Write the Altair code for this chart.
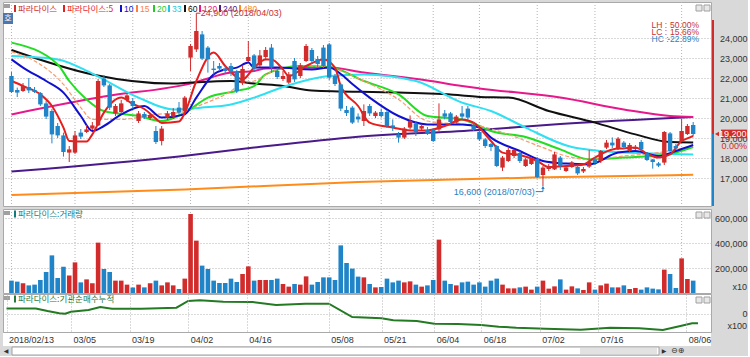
import altair as alt
import pandas as pd

# ---------------- data ----------------
tick_idx = [0, 11, 21, 31, 41, 55, 64, 73, 81, 91, 101, 116]
tick_labels = ["2018/02/13", "03/05", "03/19", "04/02", "04/16", "05/08",
               "05/21", "06/04", "06/18", "07/02", "07/16", "08/06"]

opens = [22100, 21400, 21350, 21550, 21400, 21250, 20730, 20350, 19600, 19130,
         18270, 18270, 19270, 19300, 19470, 19630, 21970, 21630, 20230, 20300,
         20900, 20850, 19850, 20200, 20000, 19350, 18850, 20020, 20070, 20520,
         20350, 23020, 23430, 24180, 23520, 22470, 22600, 22470, 22600, 22300,
         21750, 22850, 23130, 22630, 23050, 23520, 22350, 21950, 21770, 22850,
         22100, 22850, 23400, 22950, 23520, 23680, 22100, 21680, 20400, 20520,
         20070, 19850, 20600, 20100, 20300, 20300, 19630, 19180, 19020, 19520,
         19730, 19470, 19400, 19430, 19430, 20230, 20230, 19770, 20230, 20470,
         19630, 19300, 18930, 18700, 18600, 17520, 17850, 18100, 18250, 17600,
         17700, 17950, 17150, 17450, 17430, 18020, 17350, 17550, 17550, 17330,
         17570, 17930, 17850, 18520, 18770, 18470, 18770, 18350, 18450, 18800,
         18230, 17930, 17730, 17770, 19230, 18600, 18850, 19200, 19650]
highs = [22300, 21520, 21750, 22000, 21550, 21300, 20850, 20450, 19750, 19270,
         18600, 19350, 19450, 19650, 19800, 21950, 22150, 21700, 20700, 20900,
         21250, 21000, 20350, 20300, 20250, 19600, 19600, 20350, 20500, 20800,
         21100, 23700, 24900, 24350, 23600, 22850, 22750, 22600, 22750, 22400,
         22600, 23850, 23200, 23400, 23550, 23700, 22500, 22350, 22300, 23000,
         22750, 23700, 23500, 23100, 23650, 23750, 22200, 21750, 20600, 20600,
         20230, 20680, 20700, 20350, 20470, 20400, 19930, 19300, 19550, 20130,
         19850, 19700, 19550, 19500, 20730, 20400, 20300, 20150, 20600, 20600,
         19800, 19400, 19000, 18750, 18650, 18100, 18500, 18450, 18350, 18000,
         18000, 18050, 17600, 17700, 18300, 18100, 17600, 17850, 17650, 17550,
         18400, 18050, 18400, 18900, 19030, 19050, 18850, 18750, 18650, 18900,
         18300, 17950, 17800, 19350, 19300, 18700, 19950, 19700, 19800]
lows = [21250, 21050, 21300, 21250, 21250, 20600, 19950, 18730, 19000, 18070,
        17800, 18200, 18950, 19250, 19400, 19600, 21550, 20400, 20100, 20200,
        20800, 20450, 19750, 19950, 19900, 18700, 18630, 19900, 19950, 20200,
        20300, 22350, 23300, 22900, 22270, 22180, 22350, 22200, 22100, 21250,
        21650, 22800, 22300, 22550, 22950, 22270, 21950, 21850, 21700, 21800,
        22000, 22800, 22700, 22550, 22500, 21900, 21600, 20350, 20100, 19700,
        19770, 19600, 20100, 20000, 20020, 19500, 19350, 18770, 18950, 19430,
        19100, 19400, 19150, 18800, 19350, 19930, 19700, 19700, 19930, 19950,
        19350, 18850, 18500, 18350, 17550, 17350, 17800, 18000, 17750, 17550,
        17650, 17000, 16600, 17350, 17400, 17400, 17300, 17500, 17150, 17250,
        17500, 17650, 17750, 18450, 18500, 18400, 18450, 18300, 18400, 18350,
        17850, 17470, 17550, 17650, 18300, 18400, 18800, 19150, 19100]
closes = [21300, 21270, 21600, 21380, 21300, 20680, 20070, 19180, 19130, 18300,
          18430, 19130, 19070, 19430, 19630, 21850, 21630, 20520, 20600, 20730,
          21130, 20600, 20230, 20050, 20150, 18800, 19470, 20230, 20300, 20270,
          21020, 23600, 24350, 22970, 22930, 22400, 22470, 22350, 22300, 21350,
          22450, 23050, 22470, 23130, 23400, 22520, 22050, 22100, 22180, 21930,
          22630, 23600, 22850, 22700, 22600, 22020, 21700, 20470, 20250, 19770,
          19930, 20350, 20230, 20270, 20100, 19600, 19520, 19020, 19470, 19850,
          19300, 19600, 19230, 18850, 19930, 20070, 19800, 20070, 20070, 20020,
          19430, 18930, 18600, 18550, 17600, 18020, 18400, 18400, 17850, 17930,
          17950, 17050, 17520, 17600, 18180, 17600, 17530, 17780, 17230, 17450,
          17800, 17750, 18350, 18770, 18630, 18970, 18550, 18650, 18550, 18430,
          17900, 17800, 17620, 19300, 18350, 18480, 19350, 19600, 19200]
volumes = [99000, 91000, 78000, 61000, 67000, 104000, 168000, 301000, 120000, 210000,
           141000, 245000, 85000, 109000, 78000, 403000, 192000, 168000, 99000, 99000,
           67000, 45000, 67000, 45000, 78000, 99000, 61000, 85000, 61000, 32000,
           115000, 632000, 419000, 219000, 192000, 99000, 80000, 80000, 115000, 88000,
           152000, 213000, 99000, 104000, 104000, 104000, 115000, 72000, 51000, 72000,
           67000, 133000, 67000, 88000, 125000, 125000, 104000, 381000, 240000, 195000,
           131000, 125000, 72000, 45000, 48000, 115000, 85000, 99000, 85000, 93000,
           67000, 51000, 61000, 104000, 427000, 99000, 72000, 61000, 85000, 91000,
           67000, 85000, 51000, 99000, 115000, 67000, 37000, 37000, 45000, 51000,
           27000, 51000, 99000, 35000, 53000, 109000, 27000, 53000, 37000, 24000,
           85000, 27000, 61000, 75000, 45000, 45000, 61000, 32000, 40000, 27000,
           45000, 35000, 29000, 187000, 152000, 40000, 277000, 112000, 99000]

ma5_idx = [0, 2, 5, 7, 9, 10, 13, 14, 16, 19, 21, 23, 25, 26, 29, 30, 32, 35, 37, 40,
           42, 44, 45, 47, 48, 51, 54, 56, 57, 60, 62, 66, 69, 72, 75, 78, 80, 83, 85, 88,
           91, 93, 96, 99, 101, 104, 106, 108, 110, 112, 114, 116, 117, 118]
ma5_val = [21850, 21600, 21180, 20600, 19520, 18850, 18820, 19180, 20270, 21020,
           20700, 20450, 19970, 19750, 19820, 20260, 21850, 23270, 22600, 21930,
           22520, 22930, 22930, 22430, 22100, 22600, 22930, 22520, 21600, 20600,
           19770, 19520, 19380, 19380, 19600, 19930, 19770, 18850, 18270, 18150,
           17850, 17550, 17600, 17680, 18020, 18430, 18480, 18520, 18220, 18020,
           18180, 18850, 18980, 19100]
ma10_idx = [0, 2, 6, 9, 12, 14, 16, 19, 23, 26, 30, 32, 35, 37, 39, 41, 42, 46, 52, 55,
            57, 59, 62, 67, 72, 78, 81, 83, 88, 92, 96, 100, 105, 108, 112, 115, 118]
ma10_val = [22930, 22520, 21850, 21270, 20100, 19350, 19600, 20180, 20600, 20020,
            20180, 21020, 22180, 22430, 22520, 22770, 22520, 22520, 22430, 22520,
            22200, 21700, 21020, 20100, 19680, 19680, 19520, 19020, 18350, 17850,
            17720, 17680, 18270, 18350, 18100, 18350, 18650]
ma15_idx = [0, 5, 9, 12, 14, 19, 25, 29, 33, 38, 40, 42, 46, 52, 55, 61, 67, 72, 81, 86,
            92, 96, 100, 106, 112, 118]
ma15_val = [23320, 22680, 21680, 20520, 19930, 19930, 20180, 20270, 20680, 21350,
            21770, 21850, 22430, 22600, 22520, 21850, 20930, 19850, 19600, 19180,
            18520, 18100, 17930, 18100, 18270, 18600]
ma20_idx = [0, 8, 10, 13, 16, 22, 26, 30, 34, 39, 42, 44, 50, 55, 61, 67, 72, 78, 81, 83,
            89, 95, 100, 106, 113, 118]
ma20_val = [23770, 22680, 21850, 20930, 20350, 20100, 19850, 20270, 21020, 21350,
            21600, 22180, 22600, 22550, 21850, 21180, 20100, 19930, 19600, 19350,
            19050, 18430, 17930, 18020, 18150, 18550]
ma33_idx = [0, 8, 14, 22, 28, 33, 38, 42, 47, 55, 61, 70, 78, 83, 89, 97, 106, 118]
ma33_val = [23100, 22930, 22220, 21020, 20430, 20520, 20680, 21020, 21550, 22100,
            22180, 21850, 20770, 20350, 19520, 18550, 18270, 18180]
ma60_idx = [0, 14, 28, 31, 38, 42, 47, 52, 67, 78, 81, 86, 93, 101, 108, 114, 118]
ma60_val = [23400, 22180, 21720, 21770, 21850, 21720, 21600, 21380, 21270, 21130,
            21050, 21020, 20350, 19770, 19180, 18800, 18780]
ma120_idx = [0, 16, 31, 38, 42, 44, 55, 61, 72, 78, 81, 95, 106, 114, 118]
ma120_val = [20180, 21070, 21720, 22270, 22350, 22480, 22520, 22270, 21880, 21600,
             21480, 21020, 20430, 20100, 20050]
ma240_idx = [0, 29, 42, 60, 81, 95, 118]
ma240_val = [17320, 18080, 18520, 19060, 19400, 19700, 20050]
ma480_idx = [0, 30, 60, 90, 118]
ma480_val = [16150, 16430, 16800, 17020, 17160]

inst_idx = [0, 5, 7, 9, 10, 11, 14, 16, 18, 23, 29, 31, 33, 37, 42, 46, 51, 55, 59, 64,
            66, 70, 73, 77, 81, 84, 87, 92, 98, 103, 108, 112, 115, 117, 118]
inst_val = [5200, 5300, 2700, 400, 0, 2000, 3700, 6700, 5000, 5000, 6000, 12700, 13400,
            12000, 11700, 8700, 10000, 10000, -3300, -4600, -6600, -7300, -10000, -10300,
            -11300, -13000, -14000, -15000, -16000, -14000, -14600, -16300, -12300, -9600, -9600]

# ---------------- styling ----------------
RED = "#d22b2b"
BLUE = "#1f84c8"
GRID = "#b4b4b4"
FONT = "Liberation Sans"
KFONT = "Noto Sans CJK KR"
W = 708
H1, H2, H3 = 204, 84, 38
XDOM = [-0.6, 120.22]

n = len(closes)
df = pd.DataFrame({"i": list(range(n)), "open": opens, "high": highs, "low": lows,
                   "close": closes, "vol": volumes})
df["dir"] = ["up" if c >= o else "down" for o, c in zip(opens, closes)]
ticks_df = pd.DataFrame({"i": tick_idx})

one = pd.DataFrame({"k": [0]})
xs = alt.Scale(domain=XDOM, nice=False, zero=False)
dir_color = alt.Color("dir:N", scale=alt.Scale(domain=["up", "down"], range=[RED, BLUE]), legend=None)

lab_expr = ("[" + ",".join("'%s'" % s for s in tick_labels) + "][indexof(["
            + ",".join(str(v) for v in tick_idx) + "], datum.value)]")
date_x_axis = alt.Axis(values=tick_idx, labelExpr=lab_expr, ticks=False, domain=False, grid=True,
                       gridColor=GRID, gridDash=[1, 2], title=None, labelAlign="left",
                       labelBaseline="top", labelPadding=3, labelOffset=2, labelFont=FONT,
                       labelFontSize=9, labelColor="#333333", labelOverlap=False,
                       labelFlush=False, zindex=1)


def right_axis(values, fmt=",.0f"):
    return alt.Axis(orient="right", values=values, format=fmt, grid=True, gridColor=GRID,
                    gridDash=[1, 2], ticks=False, domain=False, labelAlign="right",
                    labelPadding=36, labelFont=FONT, labelFontSize=9, labelColor="#333333",
                    labelOverlap=False, title=None)


ys_price = alt.Scale(domain=[15600, 25800], nice=False, zero=False)
price_y_axis = right_axis(list(range(17000, 24001, 1000)))


def XF():
    return alt.X("i:Q", scale=xs, axis=None)


def XD(v):
    return alt.XDatum(v, axis=None)


def YD(v):
    return alt.YDatum(v, axis=price_y_axis)


def ptext(txt, x, y, color, size=8.5, font=KFONT, align="left"):
    return alt.Chart(one).mark_text(text=txt, color=color, font=font, fontSize=size, align=align,
                                    baseline="middle").encode(x=alt.value(x), y=alt.value(y))


def prect(x1, x2, y1, y2, fill, stroke=""):
    kw = dict(fill=fill)
    if stroke:
        kw.update(stroke=stroke, strokeWidth=1)
    return alt.Chart(one).mark_rect(**kw).encode(x=alt.value(x1), x2=alt.value(x2),
                                                  y=alt.value(y1), y2=alt.value(y2))


def dtext(txt, xi, yv, color, size=9, font=FONT, align="left"):
    return alt.Chart(one).mark_text(text=txt, color=color, font=font, fontSize=size, align=align,
                                    baseline="middle").encode(x=XD(xi), y=YD(yv))


def vgrid():
    return alt.Chart(ticks_df).mark_rule(color=GRID, strokeDash=[1, 2], strokeWidth=1).encode(x=XF())


def panel_icons():
    return [prect(1, 7, 2, 6, "#a0a0a0"),
            prect(W - 15, W - 9, 3, 9, "#e8e8e8", "#a0a0a0"),
            prect(W - 7, W - 1, 3, 9, "#e8e8e8", "#a0a0a0")]


# ---------------- price panel ----------------
MAS = [
    (ma480_idx, ma480_val, "#ff8c1a", 2, None),
    (ma240_idx, ma240_val, "#4a1a8a", 2, None),
    (ma120_idx, ma120_val, "#e8188c", 2, None),
    (ma60_idx, ma60_val, "#101010", 2, None),
    (ma33_idx, ma33_val, "#2ee0f2", 2, None),
    (ma20_idx, ma20_val, "#22dd22", 2, None),
    (ma15_idx, ma15_val, "#ff9966", 1.2, [4, 2]),
    (ma10_idx, ma10_val, "#1010d0", 2, None),
    (ma5_idx, ma5_val, "#e81e1e", 2, None),
]

price_layers = [vgrid()]
for idx, vals, col, wid, dash in MAS:
    d = pd.DataFrame({"i": idx, "v": vals})
    kw = dict(color=col, strokeWidth=wid, interpolate="monotone")
    if dash:
        kw["strokeDash"] = dash
    price_layers.append(alt.Chart(d).mark_line(**kw).encode(
        x=XF(), y=alt.Y("v:Q", scale=ys_price, axis=price_y_axis)))

price_layers.append(alt.Chart(df).mark_rule(strokeWidth=1).encode(
    x=XF(), y=alt.Y("low:Q", scale=ys_price, axis=price_y_axis), y2="high:Q", color=dir_color))
price_layers.append(alt.Chart(df).mark_bar(size=4.4).encode(
    x=XF(), y=alt.Y("open:Q", scale=ys_price, axis=price_y_axis), y2="close:Q", color=dir_color))

# legend row
legend_items = [(11, "파라다이스", RED), (60, "파라다이스:5", "#e81e1e"), (117, "10", "#1010d0"),
                (133, "15", "#ff7f3f"), (150, "20", "#22cc22"), (165, "33", "#22c8e0"),
                (181, "60", "#101010"), (196, "120", "#e8188c"), (216, "240", "#4a1a8a"),
                (236, "480", "#ff8c1a")]
for lx, txt, col in legend_items:
    price_layers.append(prect(lx, lx + 2, 3, 10, col))
    price_layers.append(ptext(txt, lx + 4, 6.5, col, size=8.5,
                              font=KFONT if not txt.isdigit() else FONT))
price_layers += panel_icons()
price_layers.append(prect(0, 10, 11, 22, "#4d76aa"))
price_layers.append(ptext("호", 5, 16.5, "white", size=8, align="center"))

# max / min annotations
ANN_R = "#c83232"
ANN_B = "#2a7fc0"
price_layers.append(alt.Chart(one).mark_rule(color=ANN_R, strokeWidth=1).encode(
    x=XD(32), y=YD(24900), y2=alt.Y2Datum(25240)))
price_layers.append(alt.Chart(one).mark_rule(color=ANN_R, strokeWidth=1).encode(
    x=XD(32), x2=alt.X2Datum(32.7), y=YD(25240)))
price_layers.append(dtext("24,900 (2018/04/03)", 32.75, 25240, ANN_R))

price_layers.append(dtext("16,600 (2018/07/03)", 90.6, 16320, ANN_B, align="right"))
price_layers.append(alt.Chart(one).mark_rule(color=ANN_B, strokeWidth=1).encode(
    x=XD(90.75), x2=alt.X2Datum(92), y=YD(16320)))
price_layers.append(alt.Chart(one).mark_rule(color=ANN_B, strokeWidth=1).encode(
    x=XD(92), y=YD(16320), y2=alt.Y2Datum(16560)))
price_layers.append(alt.Chart(one).mark_point(shape="triangle-up", filled=True, size=12,
                                              color=ANN_B, opacity=1).encode(
    x=XD(92), y=YD(16520)))

# LH / LC / HC box
for lab, val, yv, col in [("LH :", "50.00%", 24650, ANN_R),
                          ("LC :", "15.66%", 24290, ANN_R),
                          ("HC :", "-22.89%", 23940, ANN_B)]:
    price_layers.append(dtext(lab, 110.8, yv, col, size=8.5))
    price_layers.append(dtext(val, 119.0, yv, col, size=8.5, align="right"))

# right-side current price marker
price_layers.append(alt.Chart(one).mark_rule(color=RED, strokeWidth=2).encode(
    x=alt.value(W + 2), y=YD(24900), y2=alt.Y2Datum(19200)))
price_layers.append(alt.Chart(one).mark_rule(color=BLUE, strokeWidth=2).encode(
    x=alt.value(W + 2), y=YD(19200), y2=alt.Y2Datum(15600)))
price_layers.append(alt.Chart(one).mark_point(shape="triangle-left", filled=True, size=22,
                                              color=RED, opacity=1).encode(
    x=alt.value(W + 6), y=YD(19200)))
price_layers.append(alt.Chart(one).mark_rect(fill=RED).encode(
    x=alt.value(W + 10), x2=alt.value(W + 36), y=YD(19420), y2=alt.Y2Datum(18990)))
price_layers.append(alt.Chart(one).mark_text(text="19,200", color="white", font=FONT, fontSize=9,
                                             align="right", baseline="middle").encode(
    x=alt.value(W + 35.5), y=YD(19200)))
price_layers.append(alt.Chart(one).mark_text(text="0.00%", color=RED, font=FONT, fontSize=9,
                                             align="right", baseline="middle").encode(
    x=alt.value(W + 36), y=YD(18600)))

price = alt.layer(*price_layers).properties(width=W, height=H1)

# ---------------- volume panel ----------------
vol_layers = [
    vgrid(),
    alt.Chart(df).mark_bar(size=4.6).encode(
        x=XF(),
        y=alt.Y("vol:Q", scale=alt.Scale(domain=[0, 672000], nice=False),
                axis=right_axis([200000, 400000, 600000])),
        color=dir_color),
    prect(11, 13, 1.5, 8.5, "#127c7c"),
    ptext("파라다이스:거래량", 15, 5, "#127c7c", size=8.5),
    ptext("x10", W + 36, H2 - 6, "#333333", size=9, font=FONT, align="right"),
] + panel_icons()
vol = alt.layer(*vol_layers).properties(width=W, height=H2)

# ---------------- institutional cumulative panel ----------------
idf = pd.DataFrame({"i": inst_idx, "v": inst_val})
inst_layers = [
    prect(0, W, H3 + 1, H3 + 14, "white"),
    prect(9, W - 52, H3 + 15, H3 + 23, "white", "#a0a0a0"),
    prect(W - 131, W - 54, H3 + 16, H3 + 22, "#e2e2e2"),
    ptext("◀", 3, H3 + 19, "#333333", size=6, font="DejaVu Sans", align="center"),
    ptext("▶", W - 47, H3 + 19, "#333333", size=6, font="DejaVu Sans", align="center"),
    ptext("⊖⊕", W - 40, H3 + 19, "#333333", size=8, font="DejaVu Sans"),
    alt.Chart(idf).mark_line(color="#237a23", strokeWidth=2).encode(
        x=alt.X("i:Q", scale=xs, axis=date_x_axis),
        y=alt.Y("v:Q", scale=alt.Scale(domain=[-18300, 19700], nice=False, zero=False),
                axis=right_axis([0], fmt="d"))),
    prect(11, 13, 1.5, 8.5, "#237a3b"),
    ptext("파라다이스:기관순매수누적", 15, 5, "#237a3b", size=8.5),
    ptext("x100", W + 36, H3 - 6, "#333333", size=9, font=FONT, align="right"),
] + panel_icons()
inst = alt.layer(*inst_layers).properties(width=W, height=H3)

lower = alt.vconcat(vol, inst, spacing=1, bounds="flush").resolve_scale(
    y="independent", color="independent")
chart = alt.vconcat(price, lower, spacing=3, bounds="flush").resolve_scale(
    y="independent", color="independent"
).properties(
    background="#d9d9d9",
    padding={"left": 2, "top": 1, "right": 0, "bottom": 0},
).configure_view(fill="white", stroke="#a9a9a9", strokeWidth=1)

chart.save("out.html", embed_options={"renderer": "svg", "actions": False})
